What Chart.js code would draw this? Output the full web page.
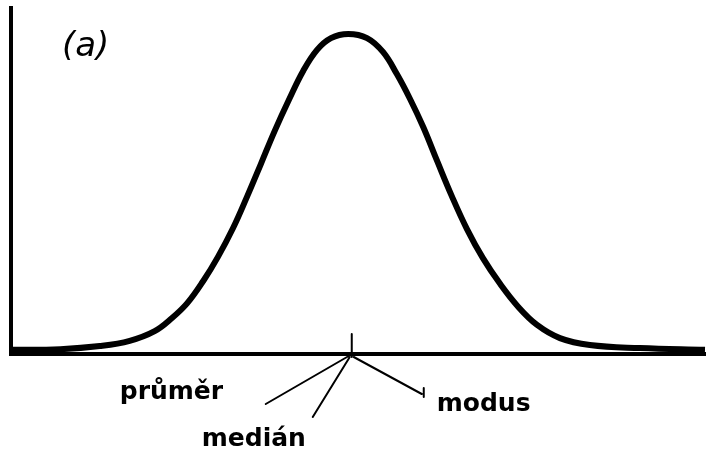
<!DOCTYPE html>
<html>
<head>
<meta charset="utf-8">
<script src="https://cdn.jsdelivr.net/npm/chart.js@4"></script>
<style>
  html, body { margin: 0; padding: 0; background: #fff; }
  #wrap { width: 707px; height: 454px; }
</style>
</head>
<body>
<div id="wrap"><canvas id="myChart" width="707" height="454"></canvas></div>
<script>
'use strict';

// values (x: 0-100 along the axis, y: 0-100 up the axis)
let curveX = [0, 7.1, 12.8, 17.1, 20.7, 23.2, 25.4, 27.7, 29.8, 32.0, 34.0, 36.0, 38.0, 40.1,
  42.1, 44.1, 46.1, 48.6, 51.3, 53.6, 55.6, 57.5, 59.4, 61.4, 63.5, 65.7, 68.0, 70.5,
  73.1, 75.8, 79.1, 83.4, 90.6, 100];
let curveY = [1.2, 1.4, 2.3, 3.8, 6.6, 10.4, 14.7, 21.1, 28.0, 36.4, 45.4, 54.9, 64.5, 73.7,
  81.8, 87.9, 91.3, 92.5, 91.3, 87.3, 80.9, 73.7, 65.6, 55.8, 45.7, 36.1, 27.7, 20.2,
  13.6, 8.4, 4.6, 2.6, 1.7, 1.2];
let markerX = 49.1;
let panelLabel = '(a)';
let markerLabels = ['průměr', 'medián', 'modus'];

let points = [];
for (let i = 0; i < curveX.length; i++) {
  points.push({ x: curveX[i], y: curveY[i] });
}

// pointer lines + labels under the axis
const pointerPlugin = {
  id: 'pointers',
  afterDraw(chart) {
    const ctx = chart.ctx;
    const xs = chart.scales.x;
    const ys = chart.scales.y;
    const area = chart.chartArea;
    const px = xs.getPixelForValue(markerX);
    const py = ys.getPixelForValue(0);

    ctx.save();
    ctx.strokeStyle = '#000';
    ctx.lineWidth = 2;
    ctx.lineCap = 'round';
    ctx.beginPath();
    ctx.moveTo(px, py - 20);
    ctx.lineTo(px, py + 3);
    ctx.moveTo(px - 3, py + 2);
    ctx.lineTo(px - 86, py + 50);
    ctx.moveTo(px - 2, py + 3);
    ctx.lineTo(px - 39, py + 63);
    ctx.moveTo(px + 2, py + 3);
    ctx.lineTo(px + 70, py + 40);
    ctx.moveTo(px + 72, py + 34);
    ctx.lineTo(px + 72, py + 43);
    ctx.stroke();

    ctx.fillStyle = '#000';
    ctx.textBaseline = 'alphabetic';
    ctx.textAlign = 'left';
    ctx.font = 'bold 25px "DejaVu Sans"';
    ctx.fillText(markerLabels[0], px - 232, py + 45);
    ctx.fillText(markerLabels[1], px - 150, py + 92);
    ctx.fillText(markerLabels[2], px + 85, py + 57);

    ctx.font = 'italic 34px "DejaVu Sans"';
    ctx.fillText(panelLabel, area.left + 51, area.top + 48);
    ctx.restore();
  }
};

const config = {
  type: 'line',
  data: {
    datasets: [
      {
        data: points,
        borderColor: '#000',
        borderWidth: 6,
        pointRadius: 0,
        tension: 0.4,
        fill: false,
        clip: false
      }
    ]
  },
  options: {
    responsive: false,
    animation: false,
    layout: { padding: { left: 11, right: 2, top: 8, bottom: 100 } },
    plugins: {
      legend: { display: false },
      tooltip: { enabled: false }
    },
    scales: {
      x: {
        type: 'linear',
        min: 0,
        max: 100,
        grid: { display: false, drawTicks: false, tickLength: 0 },
        ticks: { display: false },
        border: { display: true, color: '#000', width: 4 }
      },
      y: {
        min: 0,
        max: 100,
        grid: { display: false, drawTicks: false, tickLength: 0 },
        ticks: { display: false },
        border: { display: true, color: '#000', width: 4 }
      }
    }
  },
  plugins: [pointerPlugin]
};

new Chart(document.getElementById('myChart'), config);
</script>
</body>
</html>
